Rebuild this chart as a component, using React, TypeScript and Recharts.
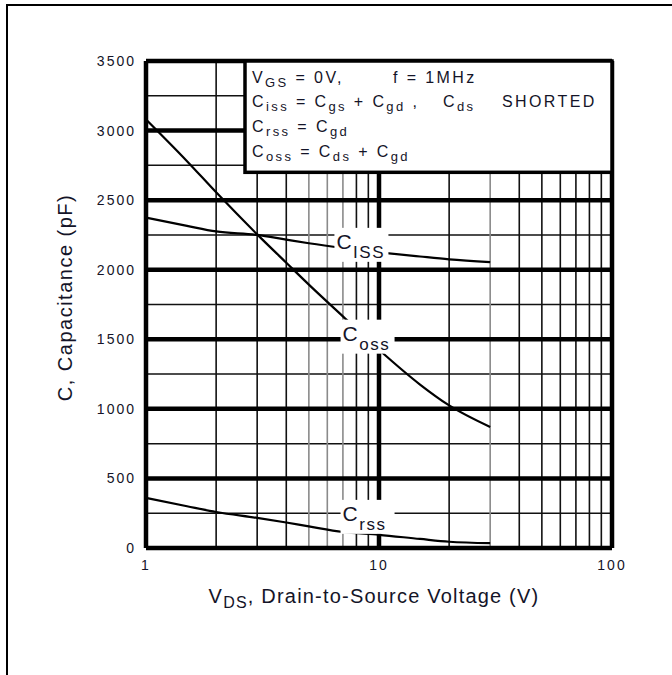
import React from 'react'
import { LineChart, Line, XAxis, YAxis, ReferenceLine, ReferenceArea, ReferenceDot } from 'recharts'

// V_DS sample points (log axis) and capacitance curves in pF
const vds = [1, 1.5, 2, 3, 4, 5, 7, 10, 15, 20, 30]
const ciss = [2375, 2315, 2275, 2250, 2216, 2190, 2156, 2125, 2095, 2075, 2055]
const coss = [3080, 2780, 2556, 2254, 2050, 1893, 1665, 1425, 1175, 1025, 870]
const crss = [360, 300, 259, 216, 183, 155, 115, 95, 65, 45, 35]

const xTicks = [1, 10, 100]
const yTicks = [0, 500, 1000, 1500, 2000, 2500, 3000, 3500]
const xMinor = [2, 3, 4, 5, 6, 7, 8, 9, 20, 30, 40, 50, 60, 70, 80, 90]
const yMinor = [250, 750, 1250, 1750, 2250, 2750, 3250]

// where the note box and the curve names sit, in data units
const noteBox = { x1: 2.66, x2: 100, y1: 2700, y2: 3500 }
const curveNames = [
  { sub: 'ISS', vds: 8, pf: 2150 },
  { sub: 'oss', vds: 8.5, pf: 1490 },
  { sub: 'rss', vds: 8.5, pf: 195 },
]

const data = vds.map((v, i) => ({ vds: v, ciss: ciss[i], coss: coss[i], crss: crss[i] }))

const FONT = '"Liberation Sans", Arial, sans-serif'
const INK = '#141428'
const lightMinor = [5, 6, 7, 30]

type Part = [string, boolean]

function Rich({ x, y, parts, size, subSize, shift, spacing = 0, anchor = 'start', rotate }: any) {
  let prevSub = false
  return (
    <text
      x={x}
      y={y}
      fill={INK}
      fontFamily={FONT}
      fontSize={size}
      letterSpacing={spacing}
      textAnchor={anchor}
      transform={rotate ? `rotate(${rotate}, ${x}, ${y})` : undefined}
    >
      {(parts as Part[]).map(([t, sub], i) => {
        const dy = (sub ? shift : 0) - (prevSub ? shift : 0)
        prevSub = sub
        return (
          <tspan key={i} dy={dy || undefined} fontSize={sub ? subSize : size}>
            {t}
          </tspan>
        )
      })}
    </text>
  )
}

const YTick = ({ x, y, payload }: any) => (
  <text x={x} y={y} dy="0.36em" textAnchor="end" fill={INK} fontFamily={FONT} fontSize={14} letterSpacing={2}>
    {payload.value}
  </text>
)

const XTick = ({ x, y, payload }: any) => (
  <text x={x} y={y} dy="0.71em" textAnchor="middle" fill={INK} fontFamily={FONT} fontSize={14} letterSpacing={2}>
    {payload.value}
  </text>
)

const NoteBox = ({ x, y, width, height }: any) => {
  const L = x + 7
  const t = { size: 16, subSize: 13, shift: 4, spacing: 2.4 }
  return (
    <g>
      <rect x={x} y={y} width={width} height={height} fill="#fff" stroke="#000" strokeWidth={3.5} />
      <Rich x={L} y={y + 22} {...t} parts={[['V', false], ['GS', true], [' = 0V,', false]]} />
      <Rich x={x + 148} y={y + 22} {...t} parts={[['f = 1MHz', false]]} />
      <Rich
        x={L}
        y={y + 46}
        {...t}
        parts={[['C', false], ['iss', true], [' = C', false], ['gs', true], [' + C', false], ['gd', true], [' ,', false]]}
      />
      <Rich x={x + 198} y={y + 46} {...t} parts={[['C', false], ['ds', true]]} />
      <Rich x={x + 257} y={y + 46} {...t} parts={[['SHORTED', false]]} />
      <Rich x={L} y={y + 71} {...t} parts={[['C', false], ['rss', true], [' = C', false], ['gd', true]]} />
      <Rich
        x={L}
        y={y + 96}
        {...t}
        parts={[['C', false], ['oss', true], [' = C', false], ['ds', true], [' + C', false], ['gd', true]]}
      />
    </g>
  )
}

const curveName = (sub: string) => (props: any) => {
  const { cx, cy } = props
  return (
    <g>
      <rect x={cx - 22} y={cy - 21} width={54} height={34} fill="#fff" />
      <Rich x={cx - 20} y={cy} size={21} subSize={17} shift={9} spacing={1.5} parts={[['C', false], [sub, true]]} />
    </g>
  )
}

const XLabel = ({ viewBox }: any) => (
  <Rich
    x={viewBox.x + viewBox.width / 2 - 5}
    y={viewBox.y + 55}
    size={20}
    subSize={16}
    shift={5}
    spacing={1.2}
    anchor="middle"
    parts={[['V', false], ['DS', true], [', Drain-to-Source Voltage (V)', false]]}
  />
)

const YLabel = ({ viewBox }: any) => (
  <Rich
    x={viewBox.x - 14}
    y={viewBox.y + viewBox.height / 2 - 7}
    size={20}
    subSize={16}
    shift={5}
    spacing={1.5}
    anchor="middle"
    rotate={-90}
    parts={[['C, Capacitance (pF)', false]]}
  />
)

export default function App() {
  return (
    <div style={{ position: 'absolute', left: 0, top: 0, width: 672, height: 675, background: '#fff' }}>
      <div
        style={{
          position: 'absolute',
          left: 6,
          top: 4,
          right: 0,
          bottom: 0,
          borderTop: '2px solid #000',
          borderLeft: '2px solid #000',
        }}
      />
      <LineChart width={672} height={675} data={data} margin={{ top: 61, right: 60, bottom: 97, left: 86 }}>
        <XAxis
          dataKey="vds"
          type="number"
          scale="log"
          domain={[1, 100]}
          allowDataOverflow
          ticks={xTicks}
          tick={<XTick />}
          tickSize={0}
          tickMargin={12}
          axisLine={false}
          height={30}
          label={{ content: <XLabel /> }}
        />
        <YAxis
          type="number"
          domain={[0, 3500]}
          ticks={yTicks}
          tick={<YTick />}
          tickSize={0}
          tickMargin={10}
          axisLine={false}
          width={60}
          label={{ content: <YLabel /> }}
        />
        {yMinor.map(v => (
          <ReferenceLine key={'ym' + v} y={v} stroke="#111" strokeWidth={1.5} zIndex={-20} />
        ))}
        {xMinor.map(v => (
          <ReferenceLine
            key={'xm' + v}
            x={v}
            stroke={lightMinor.includes(v) ? '#8a8a8a' : '#111'}
            strokeWidth={1.6}
            zIndex={-20}
          />
        ))}
        {yTicks.map(v => (
          <ReferenceLine key={'y' + v} y={v} stroke="#000" strokeWidth={4.5} zIndex={-10} />
        ))}
        {xTicks.map(v => (
          <ReferenceLine key={'x' + v} x={v} stroke="#000" strokeWidth={4.5} zIndex={-10} />
        ))}
        <ReferenceArea
          x1={noteBox.x1}
          x2={noteBox.x2}
          y1={noteBox.y1}
          y2={noteBox.y2}
          shape={<NoteBox />}
          zIndex={50}
        />
        <Line dataKey="ciss" type="monotone" stroke="#000" strokeWidth={2.2} dot={false} isAnimationActive={false} />
        <Line dataKey="coss" type="monotone" stroke="#000" strokeWidth={2.2} dot={false} isAnimationActive={false} />
        <Line dataKey="crss" type="monotone" stroke="#000" strokeWidth={2.2} dot={false} isAnimationActive={false} />
        {curveNames.map(c => (
          <ReferenceDot key={c.sub} x={c.vds} y={c.pf} r={1} shape={curveName(c.sub)} zIndex={1500} />
        ))}
      </LineChart>
    </div>
  )
}
